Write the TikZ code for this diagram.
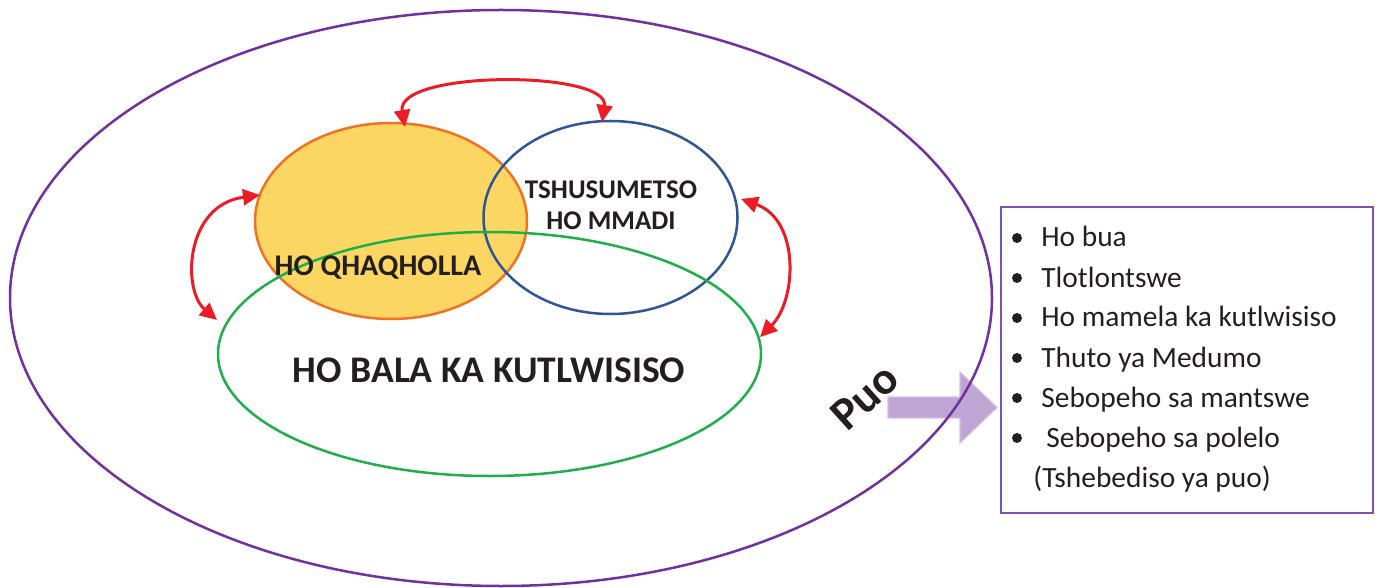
\documentclass[tikz,border=0pt]{standalone}
\usepackage{fontspec}
\setmainfont{Carlito}
\usetikzlibrary{shapes.geometric,arrows.meta}
\definecolor{outerpurple}{RGB}{112,48,160}
\definecolor{boxpurple}{RGB}{128,80,170}
\definecolor{arrowpurple}{RGB}{190,165,212}
\definecolor{arrowedge}{RGB}{210,192,228}
\definecolor{qorange}{RGB}{240,115,35}
\definecolor{qfill}{RGB}{252,214,98}
\definecolor{tblue}{RGB}{46,85,151}
\definecolor{bgreen}{RGB}{30,175,75}
\definecolor{linkred}{RGB}{237,28,36}
\definecolor{txt}{RGB}{35,31,32}
\tikzset{
  oval/.style={ellipse, inner sep=0pt, outer sep=0pt, line width=1.25pt},
  link/.style={linkred, line width=1.5pt, {Triangle[length=8.5pt,width=8pt]}-{Triangle[length=8.5pt,width=8pt]}},
  bigtxt/.style={font=\bfseries\fontsize{18.8}{22}\selectfont, text=txt},
  midtxt/.style={font=\bfseries\fontsize{15}{18}\selectfont, text=txt},
  smalltxt/.style={font=\bfseries\fontsize{13.5}{16.5}\selectfont, text=txt, align=center},
  item/.style={font=\fontsize{14.7}{18}\selectfont, text=txt, anchor=base west, inner sep=0pt},
  dot/.style={circle, fill=txt, inner sep=0pt, minimum size=5pt}
}
\begin{document}
\begin{tikzpicture}[x=0.5pt,y=-0.5pt]
\useasboundingbox (0,0) rectangle (1381,588);
% purple arrow
\draw[fill=arrowpurple, draw=arrowedge, line width=0.6pt]
  (888,397) -- (960,397) -- (960,372) -- (997,407.5) -- (960,443) -- (960,418) -- (888,418) -- cycle;
% outer ellipse
\node[oval, draw=outerpurple, minimum width=491pt, minimum height=288pt] (outer) at (501,298) {};
% inner ellipses
\node[oval, draw=qorange, fill=qfill, minimum width=136pt, minimum height=98pt] (qha) at (391,221) {};
\node[oval, draw=tblue, minimum width=127pt, minimum height=96.5pt] (tsh) at (610.5,217.5) {};
\node[oval, draw=bgreen, minimum width=271.5pt, minimum height=122pt] (bala) at (489.5,354) {};
% texts
\node[bigtxt] (tbala) at (489,370) {HO BALA KA KUTLWISISO};
\node[midtxt] (tqha) at (378,268) {HO QHAQHOLLA};
\node[smalltxt] (ttsh) at (611,205) {TSHUSUMETSO\\[-1pt]HO MMADI};
\node[font=\bfseries\fontsize{23}{26}\selectfont, text=txt, rotate=42, inner sep=0pt] (puo) at (865,397) {Puo};
% red links
\coordinate (a1) at (405,127);
\coordinate (a2) at (602,122);
\coordinate (b1) at (260,195);
\coordinate (b2) at (217,320);
\coordinate (c1) at (741,199);
\coordinate (c2) at (760,337);
\draw[link] (a1) .. controls (395,70) and (610,70) .. (a2);
\draw[link] (b1) .. controls (185,205) and (182,290) .. (b2);
\draw[link] (c1) .. controls (800,220) and (797,300) .. (c2);
% list box
\node[draw=boxpurple, line width=1pt, minimum width=186pt, minimum height=153pt, inner sep=0pt] (box) at (1187,360) {};
\node[dot] (d1) at (1017,238) {};
\node[dot] (d2) at (1017,278) {};
\node[dot] (d3) at (1017,318) {};
\node[dot] (d4) at (1017,358) {};
\node[dot] (d5) at (1017,398) {};
\node[dot] (d6) at (1017,438) {};
\node[item] (i1) at (1041,247) {Ho bua};
\node[item] (i2) at (1041,287) {Tlotlontswe};
\node[item] (i3) at (1041,327) {Ho mamela ka kutlwisiso};
\node[item] (i4) at (1041,367) {Thuto ya Medumo};
\node[item] (i5) at (1041,407) {Sebopeho sa mantswe};
\node[item] (i6) at (1046,447) {Sebopeho sa polelo};
\node[item] (i7) at (1033,487) {(Tshebediso ya puo)};
\end{tikzpicture}
\end{document}
